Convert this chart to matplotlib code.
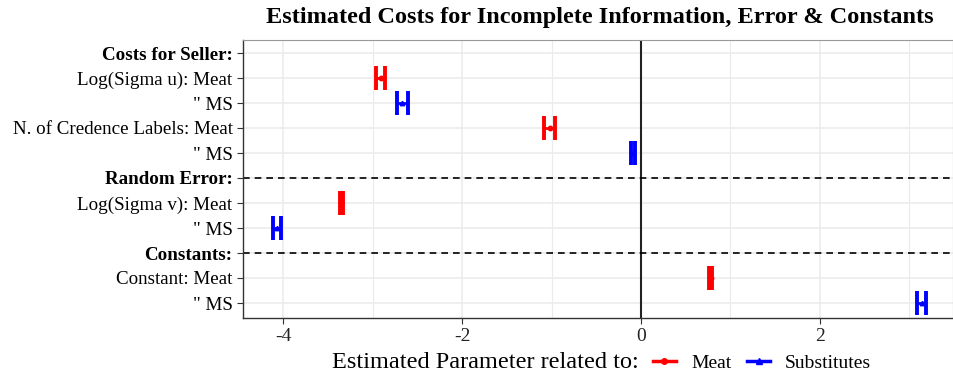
import matplotlib
matplotlib.use("Agg")
import matplotlib.pyplot as plt
from matplotlib.lines import Line2D
from matplotlib.ticker import MultipleLocator

plt.rcParams['font.family'] = ['Liberation Serif', 'DejaVu Serif']

# Row labels (top to bottom); headers are bold
row_labels = ["Costs for Seller:", "Log(Sigma u): Meat", "\" MS",
              "N. of Credence Labels: Meat", "\" MS", "Random Error:",
              "Log(Sigma v): Meat", "\" MS", "Constants:",
              "Constant: Meat", "\" MS"]
header_rows = [0, 5, 8]

# Meat estimates with confidence bounds
meat_rows = [1, 3, 6, 9]
meat_est = [-2.91, -1.02, -3.35, 0.78]
meat_lo = [-2.96, -1.08, -3.37, 0.765]
meat_hi = [-2.86, -0.96, -3.33, 0.795]

# Substitutes (MS) estimates with confidence bounds
ms_rows = [2, 4, 7, 10]
ms_est = [-2.67, -0.09, -4.07, 3.14]
ms_lo = [-2.73, -0.11, -4.12, 3.09]
ms_hi = [-2.61, -0.07, -4.02, 3.19]

x_ticks = [-4, -2, 0, 2]

fig = plt.figure(figsize=(9.54, 3.78), dpi=100)
ax = fig.add_axes([243/954, 1-318/378, (953-243)/954, (318-40)/378])

ax.set_xlim(-4.45, 3.49)
ax.set_ylim(10.6, -0.52)

# grid
ax.xaxis.set_minor_locator(MultipleLocator(1))
ax.set_xticks(x_ticks)
ax.set_xticklabels([str(t) for t in x_ticks])
ax.grid(which='major', axis='both', color='#EBEBEB', linewidth=1.1, zorder=0)
ax.grid(which='minor', axis='x', color='#EBEBEB', linewidth=0.8, zorder=0)
ax.set_axisbelow(True)

ax.axvline(0, color='#222222', linewidth=1.5, zorder=2)
for r in header_rows[1:]:
    ax.axhline(r, color='black', linewidth=1.2, linestyle=(0, (4, 3)), zorder=2)

def draw(rows, est, lo, hi, color, marker):
    xerr = [[e - l for e, l in zip(est, lo)], [h - e for e, h in zip(est, hi)]]
    ax.errorbar(est, rows, xerr=xerr, fmt=marker, color=color, ecolor=color,
                elinewidth=2.0, capsize=8.3, capthick=2.8, markersize=3.2,
                zorder=3)

draw(meat_rows, meat_est, meat_lo, meat_hi, '#FF0000', 'o')
draw(ms_rows, ms_est, ms_lo, ms_hi, '#0000FF', '^')

ax.set_yticks(range(len(row_labels)))
ax.set_yticklabels(row_labels)
for i, lab in enumerate(ax.get_yticklabels()):
    if i in header_rows:
        lab.set_fontweight('bold')
ax.tick_params(axis='y', labelsize=13.7, colors='#333333', length=4, width=0.8,
               labelcolor='black')
ax.tick_params(axis='x', labelsize=14, colors='#333333', length=4, width=0.8,
               labelcolor='#222222')
ax.tick_params(axis='x', which='minor', length=0)

for s in ['top', 'right']:
    ax.spines[s].set_color('#999999')
    ax.spines[s].set_linewidth(0.8)
for s in ['left', 'bottom']:
    ax.spines[s].set_color('#333333')
    ax.spines[s].set_linewidth(1.0)

fig.text(600/954, 1 - 18/378, "Estimated Costs for Incomplete Information, Error & Constants",
         ha='center', va='center', fontsize=17.5, fontweight='bold')

fig.text(485/954, 1 - 363/378, "Estimated Parameter related to:", ha='center',
         va='center', fontsize=17.5)
handles = [
    Line2D([0], [0], color='#FF0000', linewidth=2.5, marker='o', markersize=4),
    Line2D([0], [0], color='#0000FF', linewidth=2.5, marker='^', markersize=4),
]
fig.legend(handles, ["Meat", "Substitutes"], loc='center left',
           bbox_to_anchor=(653/954, 1 - 363/378), ncol=2, frameon=False,
           fontsize=14, handlelength=1.18, columnspacing=0.82,
           handletextpad=0.77, borderpad=0, borderaxespad=0)

fig.savefig("out.png", dpi=100)
